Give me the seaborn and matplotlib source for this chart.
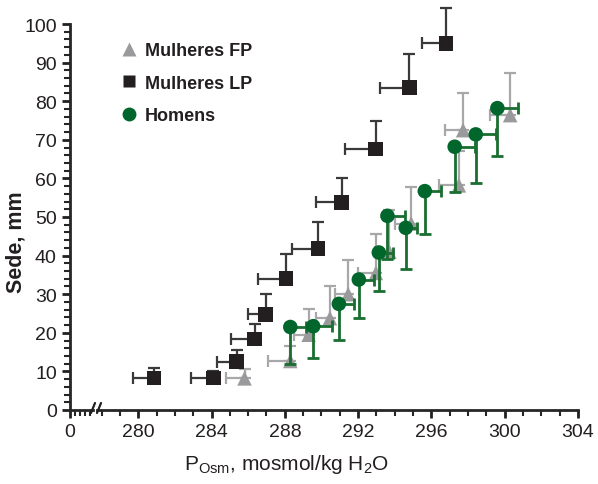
import numpy as np
import pandas as pd
import matplotlib
matplotlib.use("Agg")
import matplotlib.pyplot as plt
import seaborn as sns
from matplotlib.lines import Line2D
from matplotlib.ticker import MultipleLocator

# ---- data ----
fp_x = [285.8, 288.3, 289.3, 290.46, 291.46, 292.97, 293.7, 294.9, 297.5, 297.73, 300.3]
fp_y = [8.2, 12.7, 19.5, 23.8, 30.0, 35.5, 41.0, 48.3, 58.2, 72.5, 76.4]
fp_xerr = [1.0, 1.2, 0.8, 0.75, 0.7, 0.95, 0.8, 0.9, 1.1, 1.0, 1.1]
fp_yerr = [2.4, 4.0, 6.7, 8.3, 8.8, 10.2, 10.8, 9.5, 9.0, 9.7, 11.0]

lp_x = [280.86, 284.1, 285.37, 286.35, 286.95, 288.06, 289.8, 291.1, 292.95, 294.8, 296.8]
lp_y = [8.3, 8.3, 12.5, 18.4, 24.8, 34.0, 41.8, 53.8, 67.6, 83.5, 95.0]
lp_xerr = [1.16, 1.24, 1.07, 1.28, 0.95, 1.5, 1.4, 1.4, 1.65, 1.6, 1.3]
lp_yerr = [2.7, 1.8, 3.1, 3.9, 5.3, 6.5, 6.8, 6.2, 7.4, 8.7, 9.2]

hm_x = [288.3, 289.55, 290.95, 292.04, 293.13, 293.6, 294.6, 295.64, 297.27, 298.42, 299.6]
hm_y = [21.5, 21.7, 27.5, 33.8, 40.8, 50.3, 47.2, 56.7, 68.2, 71.4, 78.2]
hm_xerr = [0.85, 1.05, 0.8, 0.8, 0.77, 0.95, 0.6, 0.9, 1.1, 1.1, 1.1]
hm_yerr = [9.5, 8.3, 9.3, 9.9, 10.1, 11.3, 10.6, 11.0, 11.8, 12.7, 12.3]

labels = ["Mulheres FP", "Mulheres LP", "Homens"]
x_ticks = [280, 284, 288, 292, 296, 300, 304]
y_ticks = list(range(0, 101, 10))

sns.set_style("ticks")
plt.rcParams['font.family'] = ['Liberation Sans', 'DejaVu Sans']
plt.rcParams['mathtext.fontset'] = 'custom'
plt.rcParams['mathtext.rm'] = 'Liberation Sans'

W, H = 598, 485
fig = plt.figure(figsize=(W / 100, H / 100), dpi=100)
y0, y1 = 411, 25
bot = (H - y0) / H
hgt = (y0 - y1) / H
axL = fig.add_axes([70 / W, bot, 23 / W, hgt])
axR = fig.add_axes([97 / W, bot, (578 - 97) / W, hgt], sharey=axL)

c_fp, c_fp_e = "#9a9a9c", "#a8a8aa"
c_lp, c_lp_e = "#231f20", "#3a3a3a"
c_hm, c_hm_e = "#00662b", "#1a6e30"

df_fp = pd.DataFrame({"x": fp_x, "y": fp_y})
df_lp = pd.DataFrame({"x": lp_x, "y": lp_y})
df_hm = pd.DataFrame({"x": hm_x, "y": hm_y})

z = np.zeros(len(fp_x))
axR.errorbar(fp_x, fp_y, xerr=[fp_xerr, z], yerr=[z, fp_yerr], fmt="none",
             ecolor=c_fp_e, elinewidth=1.6, capsize=4, capthick=1.6, clip_on=False, zorder=2)
sns.scatterplot(data=df_fp, x="x", y="y", ax=axR, marker="^", s=110, color=c_fp,
                edgecolor="none", zorder=3, clip_on=False)
axR.errorbar(lp_x, lp_y, xerr=[lp_xerr, z], yerr=[z, lp_yerr], fmt="none",
             ecolor=c_lp_e, elinewidth=1.6, capsize=4, capthick=1.6, clip_on=False, zorder=4)
sns.scatterplot(data=df_lp, x="x", y="y", ax=axR, marker="s", s=110, color=c_lp,
                edgecolor="none", zorder=5, clip_on=False)
axR.errorbar(hm_x, hm_y, xerr=[z, hm_xerr], yerr=[hm_yerr, z], fmt="none",
             ecolor=c_hm_e, elinewidth=2.0, capsize=4, capthick=2.0, clip_on=False, zorder=6)
sns.scatterplot(data=df_hm, x="x", y="y", ax=axR, marker="o", s=110, color=c_hm,
                edgecolor="none", zorder=7, clip_on=False)

# axes config
axR.set_xlim(277.75, 304)
axR.set_ylim(0, 100)
axR.set_xticks(x_ticks)
axR.xaxis.set_minor_locator(MultipleLocator(1))
axR.spines["left"].set_visible(False)
axR.spines["top"].set_visible(False)
axR.spines["right"].set_visible(False)
axR.tick_params(axis="y", left=False, labelleft=False, which="both")
axR.tick_params(axis="x", which="major", length=6, width=2, direction="out", labelsize=14, colors="#231f20")
axR.tick_params(axis="x", which="minor", length=4, width=1.5, direction="out")
axR.spines["bottom"].set_linewidth(2)
axR.set_xlabel(r"P$_{\mathrm{Osm}}$, mosmol/kg H$_2$O", fontsize=15, color="#231f20")
axR.xaxis.set_label_coords(0.395, -0.11)
axR.set_ylabel("")

axL.set_xlim(0, 4.6)
axL.set_xticks([0])
axL.set_xticklabels(["0"])
axL.xaxis.set_minor_locator(MultipleLocator(1))
axL.set_yticks(y_ticks)
axL.yaxis.set_minor_locator(MultipleLocator(2))
axL.spines["top"].set_visible(False)
axL.spines["right"].set_visible(False)
axL.spines["left"].set_linewidth(2)
axL.spines["bottom"].set_linewidth(2)
axL.tick_params(axis="both", which="major", length=6, width=2, direction="out", labelsize=14, colors="#231f20")
axL.tick_params(axis="both", which="minor", length=4, width=1.5, direction="out")
axL.set_ylabel("Sede, mm", fontsize=15.5, fontweight="bold", color="#231f20")
axL.yaxis.set_label_coords(-1.9, 0.438)
axL.set_xlabel("")

# break marks
kw = dict(color="#231f20", lw=1.6, clip_on=False, transform=fig.transFigure)
fig.add_artist(Line2D([91 / W, 95 / W], [(H - 414) / H, (H - 404) / H], **kw))
fig.add_artist(Line2D([97 / W, 101 / W], [(H - 414) / H, (H - 404) / H], **kw))

# legend
handles = [
    Line2D([], [], marker="^", ls="none", color=c_fp, markersize=10, markeredgecolor="none"),
    Line2D([], [], marker="s", ls="none", color=c_lp, markersize=9, markeredgecolor="none"),
    Line2D([], [], marker="o", ls="none", color=c_hm, markersize=10, markeredgecolor="none"),
]
leg = axR.legend(handles, labels, loc="upper left", bbox_to_anchor=(0.01, 0.995), frameon=False,
                 prop={"weight": "bold", "size": 13},
                 handletextpad=0.3, labelspacing=0.85, handlelength=1.2)
for t in leg.get_texts():
    t.set_color("#231f20")

fig.savefig("out.png", dpi=100)
